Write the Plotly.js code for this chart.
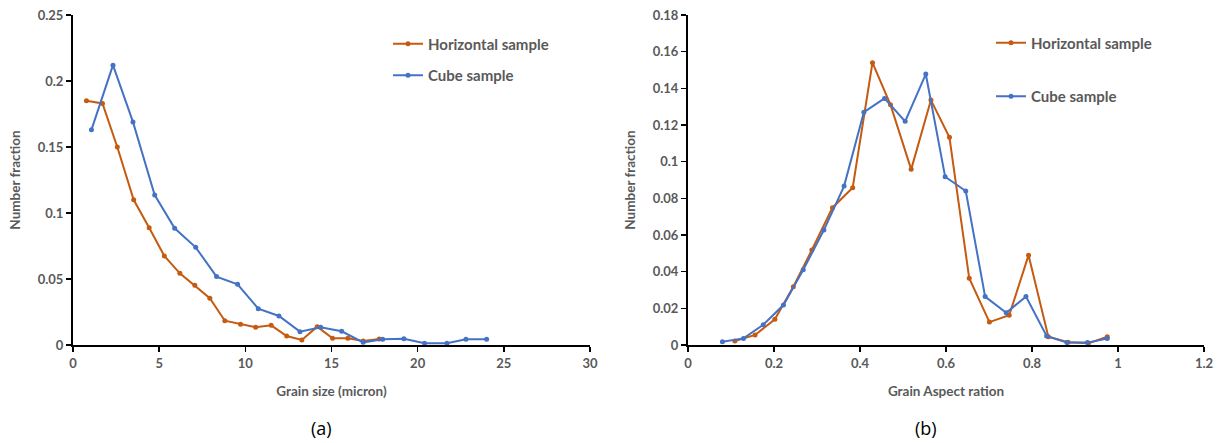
<!DOCTYPE html>
<html>
<head>
<meta charset="utf-8">
<script src="https://cdn.plot.ly/plotly-3.0.1.min.js"></script>
<style>html,body{margin:0;padding:0;background:#fff;}#chart{width:1225px;height:443px;}</style>
</head>
<body>
<div id="chart"></div>
<script>
// Panel (a): grain size distribution
const sizeHorizX = [0.78,1.71,2.57,3.52,4.42,5.30,6.20,7.07,7.94,8.81,9.72,10.60,11.50,12.40,13.28,14.17,15.06,15.95,16.84,17.77];
const sizeHorizY = [0.185,0.183,0.150,0.110,0.0889,0.0674,0.0543,0.0452,0.0354,0.0184,0.0157,0.0134,0.0149,0.0068,0.0038,0.0139,0.0051,0.0051,0.0030,0.0045];
const sizeCubeX = [1.07,2.32,3.48,4.74,5.90,7.12,8.33,9.55,10.75,11.95,13.17,14.37,15.59,16.84,17.97,19.20,20.40,21.70,22.80,24.00];
const sizeCubeY = [0.163,0.212,0.169,0.1136,0.0884,0.074,0.0518,0.046,0.0275,0.022,0.0101,0.0134,0.0104,0.002,0.0043,0.0048,0.0013,0.0013,0.0043,0.0043];

// Panel (b): aspect ratio distribution
const arHorizX = [0.109,0.156,0.202,0.245,0.288,0.336,0.383,0.429,0.471,0.519,0.565,0.608,0.654,0.701,0.747,0.792,0.838,0.884,0.931,0.975];
const arHorizY = [0.0022,0.0055,0.014,0.0318,0.0518,0.0749,0.0858,0.154,0.131,0.0958,0.1336,0.1133,0.0364,0.0125,0.0162,0.049,0.0045,0.0015,0.0009,0.0045];
const arCubeX = [0.080,0.129,0.175,0.222,0.268,0.316,0.363,0.409,0.457,0.505,0.553,0.598,0.646,0.691,0.740,0.786,0.834,0.881,0.929,0.975];
const arCubeY = [0.0018,0.0036,0.011,0.0218,0.041,0.0627,0.0867,0.127,0.1345,0.122,0.1478,0.0918,0.084,0.0264,0.0176,0.0264,0.0049,0.0013,0.0013,0.0036];

const seriesNames = ["Horizontal sample", "Cube sample"];
const xTitles = ["Grain size (micron)", "Grain Aspect ration"];
const yTitle = "Number fraction";
const panelLabels = ["(a)", "(b)"];

const brown = "#C55A11";
const blue = "#4472C4";
const gray = "#595959";
const fontFam = "Lato, 'Open Sans', sans-serif";

function tr(x, y, name, color, xa, ya, leg, grp) {
  return {
    x: x, y: y, name: name, type: "scatter", mode: "lines+markers",
    line: {color: color, width: 2},
    marker: {color: color, size: 5},
    xaxis: xa, yaxis: ya, legend: leg, legendgroup: grp
  };
}

const data = [
  tr(sizeHorizX, sizeHorizY, seriesNames[0], brown, "x", "y", "legend", "a1"),
  tr(sizeCubeX, sizeCubeY, seriesNames[1], blue, "x", "y", "legend", "a2"),
  tr(arHorizX, arHorizY, seriesNames[0], brown, "x2", "y2", "legend2", "b1"),
  tr(arCubeX, arCubeY, seriesNames[1], blue, "x2", "y2", "legend2", "b2")
];

const tickFont = {family: fontFam, size: 13, color: gray, weight: "bold"};
const titleFont = {family: fontFam, size: 13.5, color: gray, weight: "bold"};

function xax(domain, range, dtick, title, anchor) {
  return {
    domain: domain, range: range, dtick: dtick, tick0: 0, anchor: anchor,
    showgrid: false, zeroline: false, showline: true, linecolor: "#000", linewidth: 2,
    ticks: "outside", ticklen: 5, tickwidth: 1.5, tickcolor: "#000",
    tickfont: tickFont, automargin: false,
    title: {text: title, font: titleFont, standoff: 17}
  };
}
function yax(range, dtick, anchor) {
  return {
    domain: [0, 1], range: range, dtick: dtick, tick0: 0, anchor: anchor,
    showgrid: false, zeroline: false, showline: true, linecolor: "#000", linewidth: 2,
    ticks: "outside", ticklen: 5, tickwidth: 1.5, tickcolor: "#000",
    tickfont: tickFont, automargin: false,
    title: {text: yTitle, font: titleFont, standoff: 14}
  };
}

const legFont = {family: fontFam, size: 15, color: gray, weight: "bold"};

const layout = {
  width: 1225, height: 443,
  margin: {l: 0, r: 0, t: 15, b: 98},
  paper_bgcolor: "#fff", plot_bgcolor: "#fff",
  font: {family: fontFam},
  showlegend: true,
  xaxis: xax([73/1225, 590/1225], [0, 30], 5, xTitles[0], "y"),
  yaxis: yax([0, 0.25], 0.05, "x"),
  xaxis2: xax([688/1225, 1204/1225], [0, 1.2], 0.2, xTitles[1], "y2"),
  yaxis2: yax([0, 0.18], 0.02, "x2"),
  legend: {x: 388/1225, y: 0.962, xanchor: "left", yanchor: "top", bgcolor: "rgba(0,0,0,0)",
    font: legFont, traceorder: "grouped", tracegroupgap: 9, itemwidth: 30},
  legend2: {x: 991/1225, y: 0.965, xanchor: "left", yanchor: "top", bgcolor: "rgba(0,0,0,0)",
    font: legFont, traceorder: "grouped", tracegroupgap: 31, itemwidth: 30},
  annotations: [
    {text: panelLabels[0], xref: "paper", yref: "paper", x: 321/1225, y: -0.252, xanchor: "center", yanchor: "middle",
      showarrow: false, font: {family: "'Open Sans', sans-serif", size: 18, color: "#000"}},
    {text: panelLabels[1], xref: "paper", yref: "paper", x: 926/1225, y: -0.252, xanchor: "center", yanchor: "middle",
      showarrow: false, font: {family: "'Open Sans', sans-serif", size: 18, color: "#000"}}
  ]
};

Plotly.newPlot("chart", data, layout, {staticPlot: true, displayModeBar: false});
</script>
</body>
</html>
